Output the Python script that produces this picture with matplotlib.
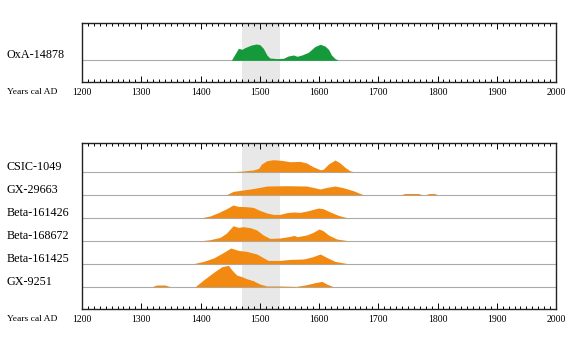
import numpy as np
import matplotlib
matplotlib.use('Agg')
import matplotlib.pyplot as plt

# calibrated date distributions (years AD, relative height)
oxa_years = [1452, 1458, 1464, 1470, 1475, 1486, 1494, 1500, 1506, 1512, 1517, 1529, 1540,
             1548, 1557, 1563, 1571, 1582, 1593, 1602, 1610, 1616, 1621, 1627, 1633]
oxa_dens = [0, 6, 12, 11, 12.7, 15.3, 16.3, 15.7, 12, 5.3, 2.3, 1.7, 2,
            4.3, 5.3, 4, 5.3, 8, 13.7, 16, 14.3, 11, 5.3, 1.7, 0]

csic_years = [1455, 1472, 1489, 1498, 1503, 1512, 1523, 1537, 1551, 1568, 1579, 1590,
              1602, 1607, 1616, 1627, 1635, 1644, 1652, 1658]
csic_dens = [0, 0.7, 1.7, 3.3, 7.7, 11, 12, 11.3, 10, 10.3, 8.7, 5,
             2, 2.3, 7.7, 11.7, 9, 4.3, 1, 0]

gx29663_years = [1444, 1455, 1467, 1484, 1500, 1512, 1545, 1579, 1590, 1602, 1613, 1627,
                 1641, 1658, 1669, 1675, 1738, 1745, 1768, 1774, 1780, 1786, 1795, 1800]
gx29663_dens = [0, 3.3, 4.3, 5.7, 7.3, 8.7, 9, 8.7, 7.3, 5.7, 7.3, 8.7,
                7, 4, 1.3, 0, 0, 1.2, 1.2, 0, 0, 1.2, 1.2, 0]

b161426_years = [1402, 1416, 1430, 1444, 1455, 1464, 1478, 1489, 1500, 1512, 1523, 1534,
                 1545, 1557, 1568, 1582, 1599, 1607, 1619, 1633, 1647]
b161426_dens = [0, 1.7, 5, 9, 12.7, 11.3, 11, 10.3, 7.3, 4.7, 3.3, 3.3,
                5, 5.7, 5.3, 7, 9.7, 9, 5.7, 2.3, 0]

b168672_years = [1402, 1416, 1433, 1444, 1455, 1464, 1472, 1484, 1495, 1506, 1517, 1534,
                 1551, 1558, 1563, 1579, 1590, 1600, 1607, 1616, 1630, 1649]
b168672_dens = [0, 1, 3.3, 7.7, 15, 13.3, 14, 13, 10.7, 5.7, 2.3, 2.7,
                4.3, 5.3, 4, 5.7, 8.3, 11.7, 10, 5.7, 1.7, 0]

b161425_years = [1388, 1405, 1422, 1439, 1451, 1464, 1478, 1495, 1503, 1514, 1534, 1551,
                 1574, 1588, 1602, 1613, 1627, 1649]
b161425_dens = [0, 2.3, 5.7, 11.3, 15.7, 13.3, 12.3, 9.7, 7, 3.3, 3.3, 4.3,
                4.7, 6.7, 9.7, 6.3, 2.3, 0]

gx9251_years = [1318, 1326, 1340, 1349, 1391, 1405, 1422, 1436, 1447, 1453, 1461, 1470,
                1478, 1489, 1500, 1512, 1534, 1562, 1579, 1593, 1605, 1613, 1624]
gx9251_dens = [0, 1.7, 1.7, 0, 0, 6.7, 14.3, 20, 21.3, 16.7, 11.7, 10,
               8, 6, 2.7, 0.7, 0.7, 0.3, 2, 4, 5.3, 2.7, 0]

bottom_labels = ['CSIC-1049', 'GX-29663', 'Beta-161426', 'Beta-168672', 'Beta-161425', 'GX-9251']
bottom_years = [csic_years, gx29663_years, b161426_years, b168672_years, b161425_years, gx9251_years]
bottom_dens = [csic_dens, gx29663_dens, b161426_dens, b168672_dens, b161425_dens, gx9251_dens]

band = (1470, 1535)
green = '#159a3b'
orange = '#f28a12'
band_col = '#e8e8e8'
line_col = '#aaaaaa'

plt.rcParams['font.family'] = ['Liberation Serif', 'DejaVu Serif']

W, H = 569, 340
fig = plt.figure(figsize=(W / 100, H / 100), dpi=100)

def style_axis(ax):
    ax.set_xlim(1200, 2000)
    ax.set_xticks(np.arange(1200, 2001, 100))
    ax.set_xticks(np.arange(1200, 2001, 10), minor=True)
    ax.tick_params(axis='x', which='both', direction='in', top=True, bottom=True,
                   labelsize=7, pad=4, width=0.7)
    ax.tick_params(axis='x', which='major', length=4.5)
    ax.tick_params(axis='x', which='minor', length=2.2)
    ax.set_yticks([])
    for s in ax.spines.values():
        s.set_linewidth(1.0)
        s.set_color('#222222')
    ax.axvspan(band[0], band[1], color=band_col, zorder=0, lw=0)

# top panel (OxA)
ax1 = fig.add_axes([82 / W, 1 - 82 / H, 474 / W, 59.3 / H])
style_axis(ax1)
ax1.set_ylim(-21.7, 37.6)
ax1.axhline(0, color=line_col, lw=0.8, zorder=1)
ax1.fill_between(oxa_years, 0, oxa_dens, color=green, lw=0, zorder=2)
ax1.text(-0.159, 5.5, 'OxA-14878', transform=ax1.get_yaxis_transform(),
         ha='left', va='center', fontsize=8.7)
fig.text(6.7 / W, 1 - 92 / H, 'Years cal AD', ha='left', va='center', fontsize=6.8)

# bottom panel
ax2 = fig.add_axes([82 / W, 1 - 309 / H, 474 / W, 166.3 / H])
style_axis(ax2)
ax2.set_ylim(0, 166.3)
n = len(bottom_labels)
for i, (lab, yrs, d) in enumerate(zip(bottom_labels, bottom_years, bottom_dens)):
    base = 22.3 + 23 * (n - 1 - i)
    ax2.axhline(base, color=line_col, lw=0.8, zorder=1)
    ax2.fill_between(yrs, base, base + np.array(d), color=orange, lw=0, zorder=2)
    ax2.text(-0.159, base + 5, lab, transform=ax2.get_yaxis_transform(),
             ha='left', va='center', fontsize=8.7)
fig.text(6.7 / W, 1 - 319.3 / H, 'Years cal AD', ha='left', va='center', fontsize=6.8)

fig.savefig('out.png', dpi=100)
